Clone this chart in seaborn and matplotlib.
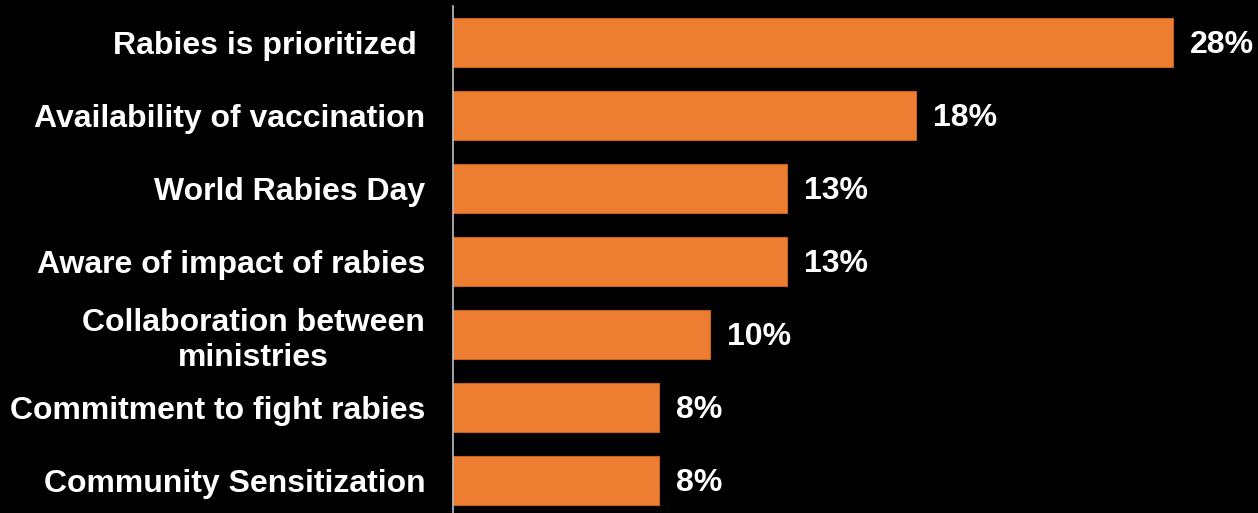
import matplotlib
matplotlib.use("Agg")
import matplotlib.pyplot as plt
import seaborn as sns
import pandas as pd

categories = [
    "Rabies is prioritized ",
    "Availability of vaccination",
    "World Rabies Day",
    "Aware of impact of rabies",
    "Collaboration between\nministries",
    "Commitment to fight rabies",
    "Community Sensitization",
]
percentages = [28, 18, 13, 13, 10, 8, 8]
value_labels = ["28%", "18%", "13%", "13%", "10%", "8%", "8%"]

df = pd.DataFrame({"factor": categories, "pct": percentages})

sns.set_theme(style="white")
plt.rcParams["font.family"] = ["Liberation Sans", "DejaVu Sans"]

W, H = 1258, 513
FS = 23
fig = plt.figure(figsize=(W / 100, H / 100), dpi=100, facecolor="black")
ax_left = 453 / W
ax_top = 6 / H
ax_h = 7 * 73 / H
ax = fig.add_axes([ax_left, 1 - ax_top - ax_h, 1 - ax_left, ax_h])
ax.set_facecolor("black")

sns.barplot(data=df, x="pct", y="factor", orient="h", color="#ED7D31",
            saturation=1, width=0.66, edgecolor="#C8641F", linewidth=0.8, ax=ax)

px_per_unit = (1173 - 453) / 28
ax.set_xlim(0, (W - 453) / px_per_unit)
ax.set_ylim(6.5, -0.5)

for i, (v, lab) in enumerate(zip(percentages, value_labels)):
    ax.text(v + 17 / px_per_unit, i + 0.03, lab, color="white", fontsize=FS,
            fontweight="bold", va="center", ha="left")

ax.set_xlabel("")
ax.set_ylabel("")
ax.set_xticks([])
ax.tick_params(axis="y", length=0, pad=20)
for lab in ax.get_yticklabels():
    lab.set_color("white")
    lab.set_fontsize(FS)
    lab.set_fontweight("bold")
    lab.set_multialignment("center")
    lab.set_linespacing(1.2)

for s in ["top", "right", "bottom"]:
    ax.spines[s].set_visible(False)
ax.spines["left"].set_color("#BFBFBF")
ax.spines["left"].set_linewidth(1.2)

fig.savefig("out.png", dpi=100, facecolor="black")
